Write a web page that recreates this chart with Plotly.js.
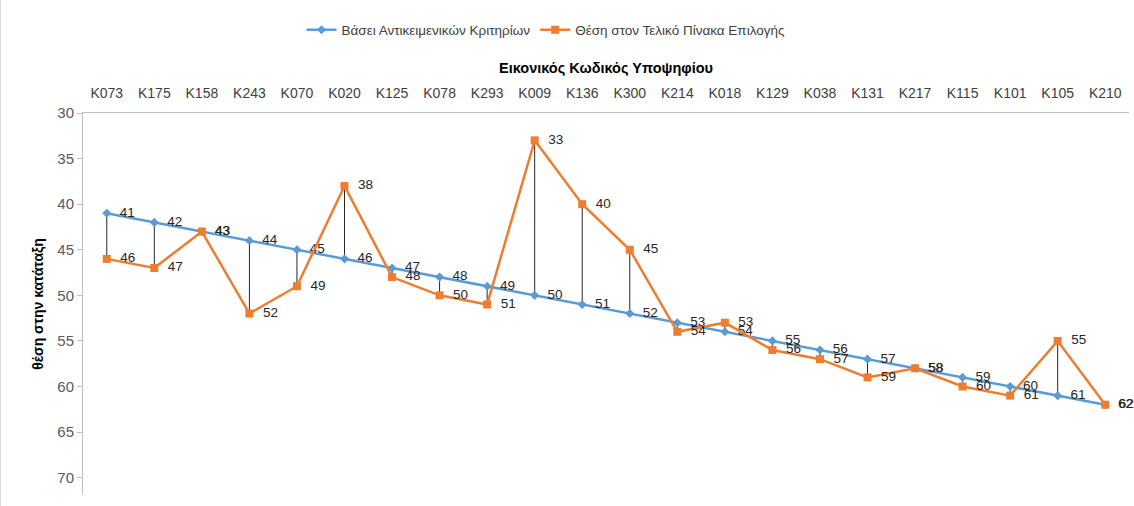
<!DOCTYPE html>
<html>
<head>
<meta charset="utf-8">
<script src="https://cdn.plot.ly/plotly-3.0.1.min.js"></script>
<style>
html,body{margin:0;padding:0;background:#fff;}
#chart{width:1134px;height:506px;box-sizing:border-box;border-left:1px solid #d9d9d9;border-bottom:1px solid #d9d9d9;}
</style>
</head>
<body>
<div id="chart"></div>
<script>
const categories = ["K073","K175","K158","K243","K070","K020","K125","K078","K293","K009","K136","K300","K214","K018","K129","K038","K131","K217","K115","K101","K105","K210"];
const criteriaRank = [41,42,43,44,45,46,47,48,49,50,51,52,53,54,55,56,57,58,59,60,61,62];
const finalRank = [46,47,43,52,49,38,48,50,51,33,40,45,54,53,56,57,59,58,60,61,55,62];
const seriesNames = ["Βάσει Αντικειμενικών Κριτηρίων","Θέση στον Τελικό Πίνακα Επιλογής"];

const dropX = [], dropY = [];
categories.forEach((c,i)=>{ dropX.push(c,c,null); dropY.push(criteriaRank[i],finalRank[i],null); });

const labelFont = {family:"Liberation Sans, Arial, sans-serif", size:13.5, color:"#262626"};

const traces = [
  {x:dropX, y:dropY, mode:"lines", line:{color:"#262626", width:1}, hoverinfo:"skip", showlegend:false},
  {x:categories, y:criteriaRank, name:seriesNames[0], mode:"lines+markers+text", cliponaxis:false,
   line:{color:"#5b9bd5", width:2.5}, marker:{symbol:"diamond", size:7, color:"#5b9bd5"},
   text:criteriaRank.map(String), texttemplate:"\u00a0\u00a0%{text}", textposition:"middle right", textfont:labelFont},
  {x:categories, y:finalRank, name:seriesNames[1], mode:"lines+markers+text", cliponaxis:false,
   line:{color:"#ed7d31", width:2.5}, marker:{symbol:"square", size:8, color:"#ed7d31"},
   text:finalRank.map(String), texttemplate:"\u00a0\u00a0%{text}", textposition:"middle right", textfont:labelFont}
];

const layout = {
  width:1134, height:506,
  margin:{l:82, r:6, t:113, b:11},
  paper_bgcolor:"#fff", plot_bgcolor:"#fff",
  font:{family:"Liberation Sans, Arial, sans-serif", color:"#595959"},
  showlegend:true,
  legend:{orientation:"h", xref:"container", x:545/1134, xanchor:"center",
          yref:"container", y:1-30/506, yanchor:"middle",
          font:{size:13.5, color:"#404040"}, traceorder:"normal"},
  xaxis:{type:"category", side:"top", range:[-0.5,21.5], showgrid:false, zeroline:false,
         showline:true, linecolor:"#bfbfbf", linewidth:1, ticks:"", ticklabelstandoff:8,
         tickfont:{size:14, color:"#404040"},
         title:{text:"<b>Εικονικός Κωδικός Υποψηφίου</b>", font:{size:14.5, color:"#000"}, standoff:8}},
  yaxis:{range:[71.9,30], tickvals:[30,35,40,45,50,55,60,65,70], showgrid:false, zeroline:false,
         showline:true, linecolor:"#bfbfbf", linewidth:1, ticks:"outside", ticklen:5, tickcolor:"#bfbfbf",
         tickfont:{size:15, color:"#595959"},
         title:{text:"<b>θέση στην κατάταξη</b>", font:{size:14, color:"#000"}, standoff:10}}
};

Plotly.newPlot("chart", traces, layout, {displayModeBar:false, staticPlot:true});
</script>
</body>
</html>
